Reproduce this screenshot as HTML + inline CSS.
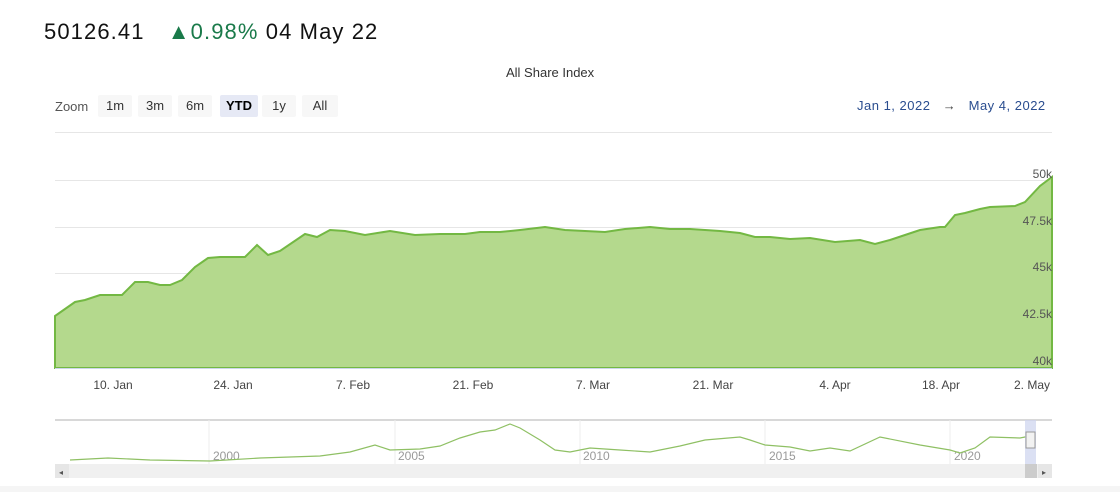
<!DOCTYPE html>
<html><head><meta charset="utf-8"><style>
body{margin:0;width:1120px;height:492px;background:#fff;font-family:"Liberation Sans",sans-serif;overflow:hidden;position:relative}
.t{position:absolute;white-space:nowrap}
.btn{position:absolute;top:95px;height:22px;line-height:22px;font-size:13px;color:#333;background:#f7f7f7;text-align:center;border-radius:2px}
</style></head><body>
<div class="t" style="left:44px;top:19px;font-size:22px;color:#111;letter-spacing:1.1px">50126.41 <span style="margin-left:16px;color:#1a7a4a">▲0.98%</span> 04 May 22</div>
<div class="t" style="left:506px;top:65px;font-size:13px;color:#333">All Share Index</div>
<div class="t" style="left:55px;top:99px;font-size:13px;color:#555">Zoom</div>
<div class="btn" style="left:98px;width:34px">1m</div>
<div class="btn" style="left:138px;width:34px">3m</div>
<div class="btn" style="left:178px;width:34px">6m</div>
<div class="btn" style="left:220px;width:38px;background:#e6e9f5;font-weight:bold;color:#000">YTD</div>
<div class="btn" style="left:262px;width:34px">1y</div>
<div class="btn" style="left:302px;width:36px">All</div>
<div class="t" style="left:857px;top:98px;font-size:13px;color:#2a4d8f;letter-spacing:0.5px">Jan 1, 2022 &nbsp;&nbsp;<span style="color:#444">→</span>&nbsp;&nbsp; May 4, 2022</div>
<svg width="1120" height="492" style="position:absolute;left:0;top:0">
<g stroke="#e6e6e6" stroke-width="1">
<line x1="55" y1="132.5" x2="1052" y2="132.5"/>
<line x1="55" y1="180.5" x2="1052" y2="180.5"/>
<line x1="55" y1="227.5" x2="1052" y2="227.5"/>
<line x1="55" y1="273.5" x2="1052" y2="273.5"/>
<line x1="55" y1="320.5" x2="1052" y2="320.5"/>
</g>
<path d="M55,316 L75,302 85,300 100,295 122,295 135,282 148,282 160,285 170,285 182,280 195,267 208,258 220,257 245,257 257,245 268,255 280,251 305,234 317,237 330,230 345,231 365,235 390,231 415,235 440,234 465,234 480,232 500,232 520,230 545,227 565,230 605,232 625,229 650,227 670,229 690,229 720,231 740,233 755,237 770,237 790,239 810,238 835,242 860,240 875,244 890,240 905,235 920,230 940,227 945,227 955,215 965,213 980,209 990,207 1015,206 1025,202 1040,186 1052,177 L1052,368 L55,368 Z" fill="#b4d98d" stroke="#73b843" stroke-width="2"/>
<line x1="55" y1="368.5" x2="1052" y2="368.5" stroke="#ccd6eb"/>
<g font-size="12" fill="#555" text-anchor="end">
<text x="1052" y="178">50k</text><text x="1052" y="225">47.5k</text><text x="1052" y="271">45k</text><text x="1052" y="318">42.5k</text><text x="1052" y="365">40k</text>
</g>
<g font-size="12" fill="#444" text-anchor="middle">
<text x="113" y="389">10. Jan</text><text x="233" y="389">24. Jan</text><text x="353" y="389">7. Feb</text><text x="473" y="389">21. Feb</text><text x="593" y="389">7. Mar</text><text x="713" y="389">21. Mar</text><text x="835" y="389">4. Apr</text><text x="941" y="389">18. Apr</text><text x="1032" y="389">2. May</text>
</g>
<line x1="55" y1="420" x2="1052" y2="420" stroke="#ccc" stroke-width="1.5"/>
<g stroke="#eee"><line x1="209" y1="420" x2="209" y2="464"/><line x1="395" y1="420" x2="395" y2="464"/><line x1="580" y1="420" x2="580" y2="464"/><line x1="765" y1="420" x2="765" y2="464"/><line x1="950" y1="420" x2="950" y2="464"/></g>
<g font-size="12" fill="#999"><text x="213" y="460">2000</text><text x="398" y="460">2005</text><text x="583" y="460">2010</text><text x="769" y="460">2015</text><text x="954" y="460">2020</text></g>
<polyline fill="none" stroke="#8fc064" stroke-width="1.2" points="70,460 108,458 150,460 210,461 260,458 320,456 350,452 375,445 390,450 420,449 440,446 460,438 480,432 495,430 510,424 520,428 540,440 555,450 570,452 590,448 620,450 650,452 680,446 705,440 740,437 750,440 765,445 790,447 810,451 830,448 850,451 880,437 920,445 950,450 960,453 975,448 990,437 1020,438 1030,436"/>
<rect x="1025" y="420" width="11" height="58" fill="#ccd3ee" opacity="0.7"/>
<rect x="1026" y="432" width="9" height="16" fill="#f2f2f2" stroke="#999"/>
<rect x="55" y="464" width="997" height="14" fill="#f0f0f0"/>
<rect x="55" y="464" width="14" height="14" fill="#e6e6e6"/><text x="59" y="475" font-size="8" fill="#555">◂</text>
<rect x="1038" y="464" width="14" height="14" fill="#e6e6e6"/><text x="1042" y="475" font-size="8" fill="#555">▸</text>
<rect x="1025" y="464" width="12" height="14" fill="#ccc"/>
<rect x="0" y="486" width="1120" height="6" fill="#f5f5f5"/>
</svg>
</body></html>
